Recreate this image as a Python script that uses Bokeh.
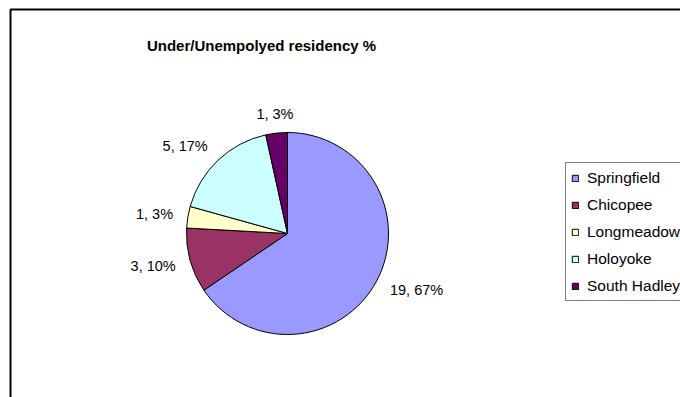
import numpy as np
from bokeh.plotting import figure
from bokeh.models import Range1d, Legend, LegendItem, ColumnDataSource, Label
from bokeh.core.properties import value
from bokeh.embed import file_html
from bokeh.resources import INLINE

# ---- data ----
title_text = "Under/Unempolyed residency %"
categories = ["Springfield", "Chicopee", "Longmeadow", "Holoyoke", "South Hadley"]
counts = [19, 3, 1, 5, 1]
percent_labels = [67, 10, 3, 17, 3]
colors = ["#9999FF", "#993366", "#FFFFCC", "#CCFFFF", "#660066"]

# ---- layout (pixels) ----
W, H = 680, 397
CX, CY = 287, 233      # pie centre, px from figure left / top
R = 101
FONT = "Liberation Sans"

total = sum(counts)
cum = np.cumsum([0] + counts)
start = np.pi / 2 - 2 * np.pi * cum[:-1] / total
end = np.pi / 2 - 2 * np.pi * cum[1:] / total
mid = (start + end) / 2

src = ColumnDataSource(dict(cat=categories, start=start, end=end, color=colors))

p = figure(width=W, height=H, x_range=Range1d(-CX, W - CX), y_range=Range1d(CY - H, CY),
           output_backend="svg", toolbar_location=None, min_border=0,
           x_axis_location=None, y_axis_location=None)
p.grid.visible = False
p.outline_line_color = None
p.background_fill_color = "white"
p.border_fill_color = "white"

# chart-area border (right/bottom edges fall outside the window)
p.quad(left=[10 - CX], right=[W], top=[CY - 9], bottom=[-H], fill_color=None,
       line_color="black", line_width=2)

wr = p.wedge(x=0, y=0, radius=R, start_angle="start", end_angle="end", direction="clock",
             fill_color="color", line_color="black", line_width=1, source=src)

# data labels
dx, dy = np.cos(mid), np.sin(mid)
lr = R + 15
lx = dx * lr
ly = dy * (lr + 4)
align = ["left" if a > 0.3 else ("right" if a < -0.3 else "center") for a in dx]
labels = [f"{c}, {pc}%" for c, pc in zip(counts, percent_labels)]
lsrc = ColumnDataSource(dict(x=lx, y=ly, text=labels, align=align))
p.text(x="x", y="y", text="text", text_align="align", text_baseline="middle",
       text_font=value(FONT), text_font_size="14.5px", text_color="black", source=lsrc)

# title
p.add_layout(Label(x=261, y=H - 45, x_units="screen", y_units="screen", text=title_text,
                   text_align="center", text_baseline="middle", text_font=FONT,
                   text_font_size="15px", text_font_style="bold", text_color="black"))

items = [LegendItem(label=c, renderers=[wr], index=i) for i, c in enumerate(categories)]
legend = Legend(items=items, location=(565, 96), orientation="vertical",
                border_line_color="black", border_line_width=1, background_fill_color="white",
                padding=5, margin=0, spacing=8, label_height=19, glyph_height=8, glyph_width=8,
                label_standoff=8, label_text_font=FONT, label_text_font_size="15.5px",
                label_text_color="black")
p.add_layout(legend, "center")

open("out.html", "w").write(file_html(p, INLINE))
